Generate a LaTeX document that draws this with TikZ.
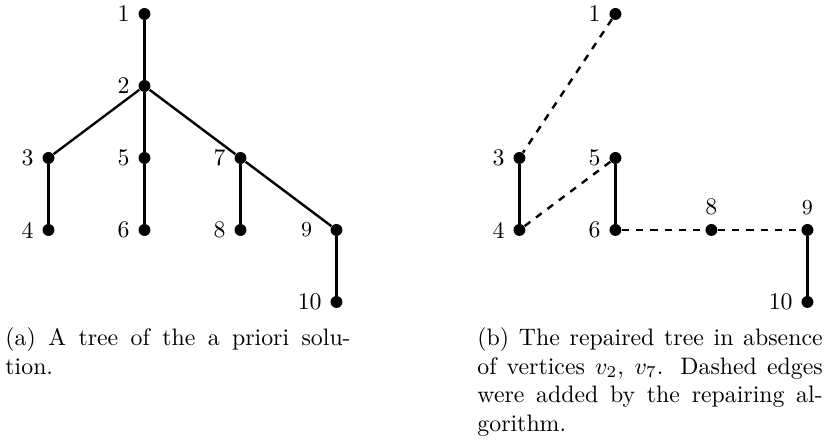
\documentclass[tikz,border=0pt]{standalone}
\begin{document}
\begin{tikzpicture}[x=40.32pt, y=30.24pt,
  vertex/.style={circle, fill, inner sep=0pt, minimum size=5pt},
  edge/.style={line width=1pt},
  caption/.style={anchor=base west, text width=145pt, align=justify, inner sep=0pt}]
  \useasboundingbox (-0.505,-1.958) rectangle (8.089,4.194);

  \node[vertex, label=left:1] (a1) at (1,4) {};
  \node[vertex, label=left:2] (a2) at (1,3) {};
  \node[vertex, label=left:3] (a3) at (0,2) {};
  \node[vertex, label=left:5] (a5) at (1,2) {};
  \node[vertex, label=left:7] (a7) at (2,2) {};
  \node[vertex, label=left:4] (a4) at (0,1) {};
  \node[vertex, label=left:6] (a6) at (1,1) {};
  \node[vertex, label=left:8] (a8) at (2,1) {};
  \node[vertex, label={[font=\small, label distance=4pt]left:9}] (a9) at (3,1) {};
  \node[vertex, label=left:10] (a10) at (3,0) {};

  \draw[edge] (a1) -- (a2);
  \draw[edge] (a2) -- (a3);
  \draw[edge] (a2) -- (a5);
  \draw[edge] (a2) -- (a7);
  \draw[edge] (a7) -- (a9);
  \draw[edge] (a3) -- (a4);
  \draw[edge] (a5) -- (a6);
  \draw[edge] (a7) -- (a8);
  \draw[edge] (a9) -- (a10);

  \node[vertex, label=left:1] (b1) at (5.906,4) {};
  \node[vertex, label=left:3] (b3) at (4.906,2) {};
  \node[vertex, label=left:5] (b5) at (5.906,2) {};
  \node[vertex, label=left:4] (b4) at (4.906,1) {};
  \node[vertex, label=left:6] (b6) at (5.906,1) {};
  \node[vertex, label=above:8] (b8) at (6.906,1) {};
  \node[vertex, label={[font=\small]above:9}] (b9) at (7.906,1) {};
  \node[vertex, label=left:10] (b10) at (7.906,0) {};

  \draw[edge] (b3) -- (b4);
  \draw[edge] (b5) -- (b6);
  \draw[edge] (b9) -- (b10);
  \draw[edge, dashed] (b1) -- (b3);
  \draw[edge, dashed] (b4) -- (b5);
  \draw[edge, dashed] (b6) -- (b8);
  \draw[edge, dashed] (b8) -- (b9);

  \node[caption] (capa) at (-0.453,-0.607) {(a) A tree of the a priori solu-\linebreak tion.};
  \node[caption] (capb) at (4.464,-0.607) {(b) The repaired tree in absence\linebreak of vertices $v_2$, $v_7$. Dashed edges\linebreak were added by the repairing al-\linebreak gorithm.};
\end{tikzpicture}
\end{document}
